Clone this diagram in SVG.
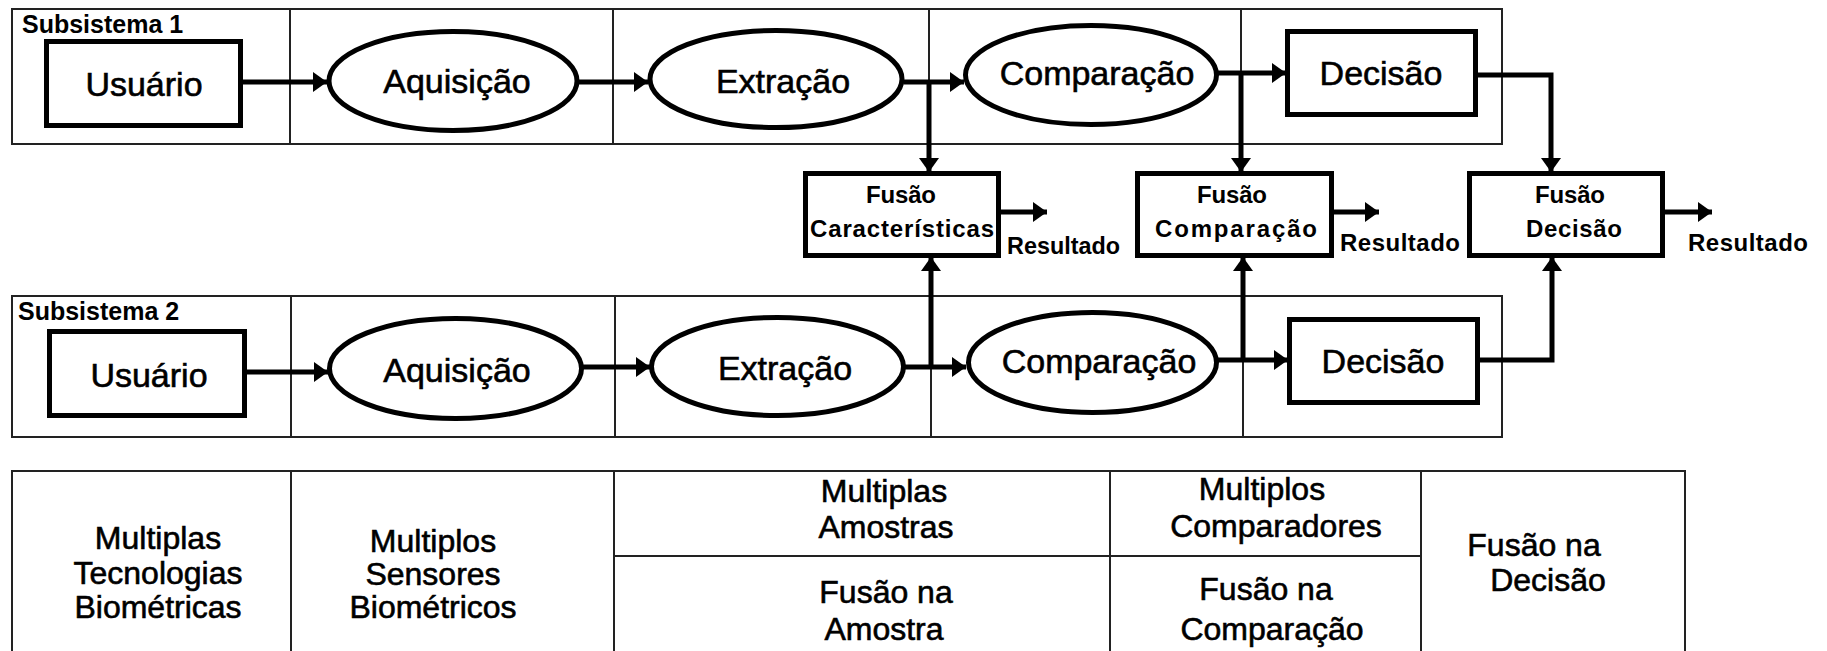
<svg xmlns="http://www.w3.org/2000/svg" width="1827" height="651" viewBox="0 0 1827 651">
<defs>
<marker id="ah" markerUnits="userSpaceOnUse" markerWidth="16" markerHeight="22" refX="14" refY="10" orient="auto">
<path d="M0,0 L14,10 L0,20 z" fill="#000"/>
</marker>
<style>
.frame{fill:none;stroke:#222;stroke-width:2}
.node{fill:#fff;stroke:#000;stroke-width:5}
.fus{fill:#fff;stroke:#000;stroke-width:5}
.arr{fill:none;stroke:#000;stroke-width:5;marker-end:url(#ah)}
.lbl{font-family:"Liberation Sans",Arial,sans-serif;font-size:34px;text-anchor:middle;fill:#000;stroke:#000;stroke-width:0.6}
.sub{font-family:"Liberation Sans",Arial,sans-serif;font-size:25px;font-weight:bold;fill:#000}
.fl{font-family:"Liberation Sans",Arial,sans-serif;font-size:24px;font-weight:bold;text-anchor:middle;fill:#000}
.res{font-family:"Liberation Sans",Arial,sans-serif;font-size:24px;font-weight:bold;fill:#000}
.tb{font-family:"Liberation Sans",Arial,sans-serif;font-size:32px;text-anchor:middle;fill:#000;stroke:#000;stroke-width:0.6}
</style>
</defs>
<rect width="1827" height="651" fill="#fff"/>

<g id="subsistema1">
<rect class="frame" x="12" y="9" width="1490" height="135"/>
<line class="frame" x1="290" y1="9" x2="290" y2="144"/>
<line class="frame" x1="613" y1="9" x2="613" y2="144"/>
<line class="frame" x1="929" y1="9" x2="929" y2="144"/>
<line class="frame" x1="1241" y1="9" x2="1241" y2="144"/>
<text class="sub" x="22" y="33">Subsistema 1</text>
</g>
<g id="subsistema2">
<rect class="frame" x="12" y="296" width="1490" height="141"/>
<line class="frame" x1="291" y1="296" x2="291" y2="437"/>
<line class="frame" x1="615" y1="296" x2="615" y2="437"/>
<line class="frame" x1="931" y1="296" x2="931" y2="437"/>
<line class="frame" x1="1243" y1="296" x2="1243" y2="437"/>
<text class="sub" x="18" y="320">Subsistema 2</text>
</g>

<g id="connectors">
<line class="arr" x1="243" y1="82" x2="327" y2="82"/>
<line class="arr" x1="577" y1="82" x2="648" y2="82"/>
<line class="arr" x1="904" y1="82" x2="964" y2="82"/>
<line class="arr" x1="929" y1="82" x2="929" y2="172"/>
<line class="arr" x1="1217" y1="73" x2="1286" y2="73"/>
<line class="arr" x1="1241" y1="73" x2="1241" y2="172"/>
<polyline class="arr" points="1478,75 1551,75 1551,172"/>
<line class="arr" x1="247" y1="372" x2="328" y2="372"/>
<line class="arr" x1="581" y1="367" x2="650" y2="367"/>
<line class="arr" x1="904" y1="367" x2="966" y2="367"/>
<line class="arr" x1="931" y1="367" x2="931" y2="257"/>
<line class="arr" x1="1217" y1="360" x2="1288" y2="360"/>
<line class="arr" x1="1243" y1="360" x2="1243" y2="257"/>
<polyline class="arr" points="1480,360 1552,360 1552,257"/>
<line class="arr" x1="1000" y1="212" x2="1047" y2="212"/>
<line class="arr" x1="1333" y1="212" x2="1379" y2="212"/>
<line class="arr" x1="1664" y1="212" x2="1712" y2="212"/>
</g>

<g id="usuario1"><rect class="node" x="46.5" y="41.5" width="194" height="84"/><text class="lbl" x="144" y="96">Usuário</text></g>
<g id="aquisicao1"><ellipse class="node" cx="453" cy="81" rx="124" ry="49.5"/><text class="lbl" x="457" y="93">Aquisição</text></g>
<g id="extracao1"><ellipse class="node" cx="776" cy="79" rx="126" ry="48.5"/><text class="lbl" x="783" y="93">Extração</text></g>
<g id="comparacao1"><ellipse class="node" cx="1091" cy="75" rx="125.5" ry="49.5"/><text class="lbl" x="1097" y="85">Comparação</text></g>
<g id="decisao1"><rect class="node" x="1287.5" y="31.5" width="188" height="83"/><text class="lbl" x="1381" y="85">Decisão</text></g>

<g id="usuario2"><rect class="node" x="49.5" y="331.5" width="195" height="84"/><text class="lbl" x="149" y="387">Usuário</text></g>
<g id="aquisicao2"><ellipse class="node" cx="455.5" cy="368.5" rx="126" ry="50"/><text class="lbl" x="457" y="382">Aquisição</text></g>
<g id="extracao2"><ellipse class="node" cx="777.5" cy="366.5" rx="126" ry="49"/><text class="lbl" x="785" y="380">Extração</text></g>
<g id="comparacao2"><ellipse class="node" cx="1092.5" cy="362.5" rx="124" ry="50"/><text class="lbl" x="1099" y="373">Comparação</text></g>
<g id="decisao2"><rect class="node" x="1289.5" y="319.5" width="188" height="83"/><text class="lbl" x="1383" y="373">Decisão</text></g>

<g id="fusao-caracteristicas"><rect class="fus" x="805.5" y="173.5" width="193" height="82"/>
<text class="fl" x="901" y="203" textLength="70" lengthAdjust="spacing">Fusão</text>
<text class="fl" x="902" y="237" textLength="184" lengthAdjust="spacing">Características</text></g>
<g id="fusao-comparacao"><rect class="fus" x="1137.5" y="173.5" width="194" height="82"/>
<text class="fl" x="1232" y="203" textLength="70" lengthAdjust="spacing">Fusão</text>
<text class="fl" x="1236" y="237" textLength="162" lengthAdjust="spacing">Comparação</text></g>
<g id="fusao-decisao"><rect class="fus" x="1469.5" y="173.5" width="193" height="82"/>
<text class="fl" x="1570" y="203" textLength="70" lengthAdjust="spacing">Fusão</text>
<text class="fl" x="1574" y="237" textLength="96" lengthAdjust="spacing">Decisão</text></g>

<g id="resultados">
<text class="res" x="1007" y="254" textLength="113" lengthAdjust="spacingAndGlyphs">Resultado</text>
<text class="res" x="1340" y="251" textLength="120" lengthAdjust="spacing">Resultado</text>
<text class="res" x="1688" y="251" textLength="120" lengthAdjust="spacing">Resultado</text>
</g>

<g id="tabela">
<rect class="frame" x="12" y="471" width="1673" height="220"/>
<line class="frame" x1="291" y1="471" x2="291" y2="651"/>
<line class="frame" x1="614" y1="471" x2="614" y2="651"/>
<line class="frame" x1="1110" y1="471" x2="1110" y2="651"/>
<line class="frame" x1="1421" y1="471" x2="1421" y2="651"/>
<line class="frame" x1="614" y1="556" x2="1421" y2="556"/>
<text class="tb" x="158" y="549">Multiplas</text>
<text class="tb" x="158" y="584">Tecnologias</text>
<text class="tb" x="158" y="618">Biométricas</text>
<text class="tb" x="433" y="552">Multiplos</text>
<text class="tb" x="433" y="585">Sensores</text>
<text class="tb" x="433" y="618">Biométricos</text>
<text class="tb" x="884" y="502">Multiplas</text>
<text class="tb" x="886" y="538">Amostras</text>
<text class="tb" x="886" y="603">Fusão na</text>
<text class="tb" x="884" y="640">Amostra</text>
<text class="tb" x="1262" y="500">Multiplos</text>
<text class="tb" x="1276" y="537">Comparadores</text>
<text class="tb" x="1266" y="600">Fusão na</text>
<text class="tb" x="1272" y="640">Comparação</text>
<text class="tb" x="1534" y="556">Fusão na</text>
<text class="tb" x="1548" y="591">Decisão</text>
</g>
</svg>
